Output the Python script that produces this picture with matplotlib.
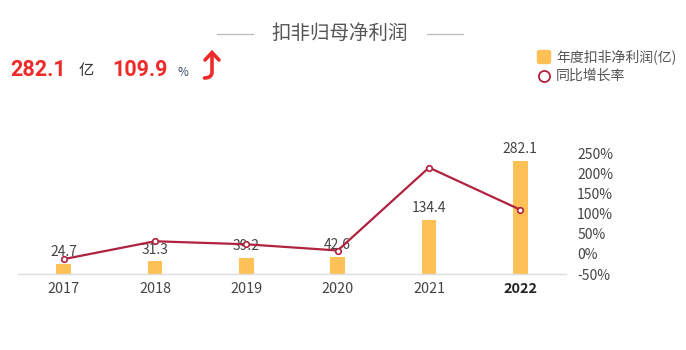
import matplotlib
matplotlib.use("Agg")
import matplotlib.pyplot as plt
from matplotlib.lines import Line2D
from matplotlib.patches import FancyBboxPatch, PathPatch
from matplotlib.path import Path

plt.rcParams['font.family'] = ['Noto Sans CJK SC', 'DejaVu Sans']

years = ['2017', '2018', '2019', '2020', '2021', '2022']
profit = [24.7, 31.3, 39.2, 42.6, 134.4, 282.1]
growth = [-13.0, 31.5, 24.0, 8.5, 215.0, 109.9]
growth_ticks = [-50, 0, 50, 100, 150, 200, 250]

BAR = '#FFC156'
LINE = '#B0223F'
RED = '#EE2A2A'
TXT = '#444444'

W, H = 686, 350
fig = plt.figure(figsize=(W / 100, H / 100), dpi=100)

def fx(px):
    return px / W

def fy(py):
    return 1 - py / H

ax = fig.add_axes([fx(18), fy(274), fx(566) - fx(18), fy(153.5) - fy(274)])
ax2 = ax.twinx()

x = list(range(len(years)))
ax.bar(x, profit, width=0.164, color=BAR, zorder=2)
ax.set_xlim(-0.5, len(years) - 0.5)
ax.set_ylim(0, 300)
for xi, v in zip(x, profit):
    ax.annotate(f'{v:.1f}', (xi, v), xytext=(0, 3.5), textcoords='offset points',
                ha='center', va='bottom', fontsize=10, color=TXT, zorder=5)

ax2.plot(x, growth, color=LINE, lw=1.6, zorder=4, marker='o', markersize=4,
         markerfacecolor='white', markeredgecolor=LINE, markeredgewidth=1.2)
ax2.set_ylim(-50, 250)
ax2.set_yticks(growth_ticks)
ax2.set_yticklabels([f'{t}%' for t in growth_ticks])

for a in (ax, ax2):
    for s in a.spines.values():
        s.set_visible(False)
ax.spines['bottom'].set_visible(True)
ax.spines['bottom'].set_color('#DDDDDD')
ax.spines['bottom'].set_linewidth(1.0)
ax.set_yticks([])
ax.set_xticks(x)
ax.set_xticklabels(years)
ax.tick_params(axis='x', length=0, pad=6, labelsize=10.4, labelcolor=TXT)
ax2.tick_params(axis='y', length=0, pad=8, labelsize=10, labelcolor=TXT)
ax.get_xticklabels()[-1].set_fontweight('bold')
ax.get_xticklabels()[-1].set_color('#222222')
ax2.set_zorder(ax.get_zorder() + 1)

# Title with flanking lines
fig.text(fx(340), fy(33), '扣非归母净利润', ha='center', va='center', fontsize=14, color='#555555')
fig.add_artist(Line2D([fx(217), fx(253)], [fy(34), fy(34)], color='#BBBBBB', lw=0.9))
fig.add_artist(Line2D([fx(427), fx(463)], [fy(34), fy(34)], color='#BBBBBB', lw=0.9))

# Headline numbers
fig.text(fx(10), fy(70), '282.1', ha='left', va='center', fontsize=15.5, fontweight='bold', color=RED,
         family=['Roboto', 'DejaVu Sans'])
fig.text(fx(79), fy(71), '亿', ha='left', va='center', fontsize=11, color='#333333')
fig.text(fx(112), fy(70), '109.9', ha='left', va='center', fontsize=15.5, fontweight='bold', color=RED,
         family=['Roboto', 'DejaVu Sans'])
fig.text(fx(178), fy(72), '%', ha='left', va='center', fontsize=8.5, color='#3A4A6A')

# Curved up-arrow symbol (no installed font has U+2934)
stem = Path([(fx(212), fy(54)), (fx(212), fy(72)), (fx(212), fy(78)), (fx(204.5), fy(78))],
            [Path.MOVETO, Path.LINETO, Path.CURVE3, Path.CURVE3])
fig.add_artist(PathPatch(stem, fill=False, edgecolor=RED, lw=2.6, capstyle='round',
                         transform=fig.transFigure))
head = Path([(fx(205), fy(60)), (fx(212), fy(52.5)), (fx(219), fy(60))],
            [Path.MOVETO, Path.LINETO, Path.LINETO])
fig.add_artist(PathPatch(head, fill=False, edgecolor=RED, lw=2.6, capstyle='round', joinstyle='miter',
                         transform=fig.transFigure))

# Legend
fig.add_artist(FancyBboxPatch((fx(537.5), fy(63.5)), fx(13), fy(0) - fy(13),
                              boxstyle='round,pad=0,rounding_size=0.004', color=BAR,
                              transform=fig.transFigure))
fig.text(fx(556), fy(56.5), '年度扣非净利润(亿)', ha='left', va='center', fontsize=10, color='#555555')
fig.add_artist(Line2D([fx(544)], [fy(76)], marker='o', markersize=8, markerfacecolor='white',
                      markeredgecolor=LINE, markeredgewidth=1.3, transform=fig.transFigure))
fig.text(fx(556), fy(76), '同比增长率', ha='left', va='center', fontsize=10, color='#555555')

fig.savefig('out.png', dpi=100)
